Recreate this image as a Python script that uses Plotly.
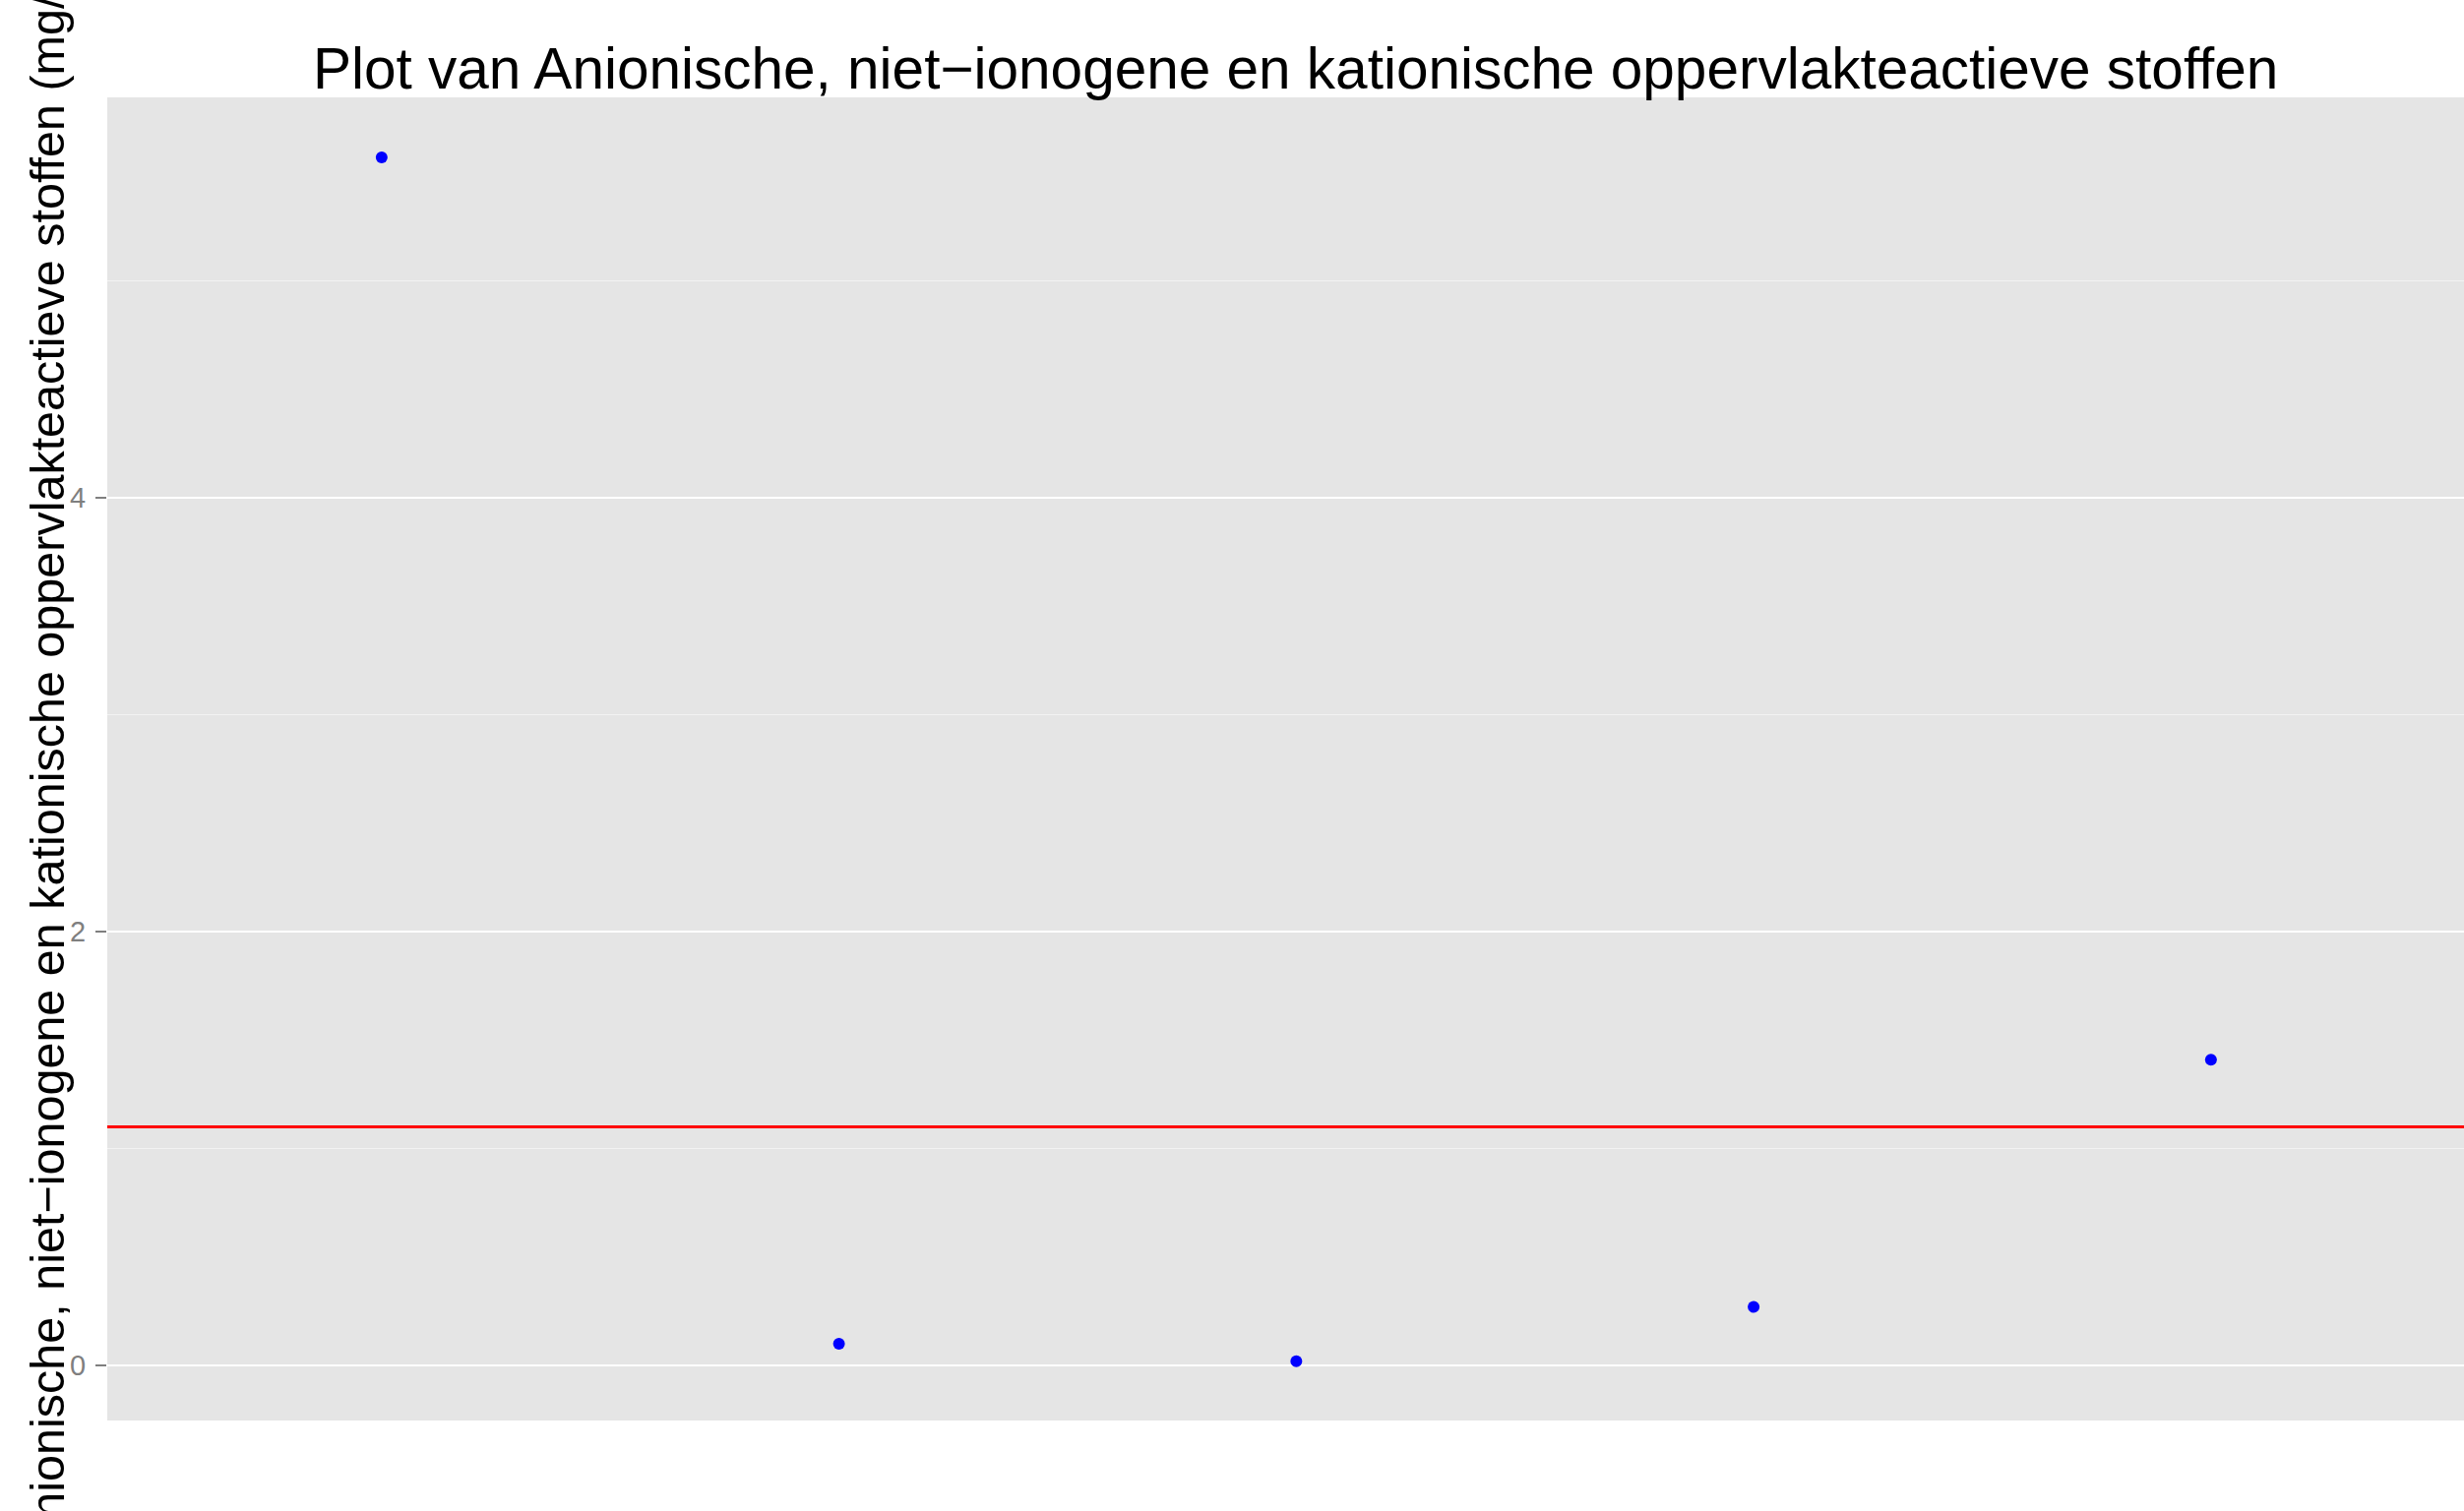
import plotly.graph_objects as go

# Data
samples = [1, 2, 3, 4, 5]
concentrations = [5.57, 0.10, 0.02, 0.27, 1.41]
threshold = 1.1
y_tick_values = [0, 2, 4]
y_tick_labels = ["0", "2", "4"]

title_text = "Plot van Anionische, niet\u2212ionogene en kationische oppervlakteactieve stoffen"
y_title = "Anionische, niet\u2212ionogene en kationische oppervlakteactieve stoffen (mg/l)"

FONT = "Liberation Sans, Arial, Helvetica, sans-serif"
W, H = 2504, 1536
ML, MR, MT, MB = 109, 0, 99, 92
PLOT_H = H - MT - MB

fig = go.Figure()
fig.add_trace(go.Scatter(
    x=samples, y=concentrations, mode="markers",
    marker=dict(color="#0000FF", size=12, line=dict(width=0)),
    showlegend=False, hoverinfo="x+y",
))
fig.add_hline(y=threshold, line=dict(color="#FF0000", width=3), layer="above")

fig.update_layout(
    width=W, height=H,
    margin=dict(l=ML, r=MR, t=MT, b=MB, pad=0),
    paper_bgcolor="white",
    plot_bgcolor="#E5E5E5",
    font=dict(family=FONT, color="black"),
    title=dict(
        text=title_text,
        font=dict(family=FONT, size=58.5, color="black"),
        x=1316.7 / W, xref="container", xanchor="center",
        y=1 - 69.7 / H, yref="container", yanchor="middle",
    ),
    xaxis=dict(
        range=[0.4, 5.5533],
        showgrid=False, zeroline=False, showticklabels=False,
        ticks="", showline=False,
    ),
    yaxis=dict(
        range=[-0.2536, 5.847],
        tickvals=y_tick_values, ticktext=y_tick_labels,
        tickfont=dict(family=FONT, size=29, color="#7F7F7F"),
        ticks="outside", ticklen=11, tickwidth=2, tickcolor="#7F7F7F",
        ticklabelstandoff=4,
        showgrid=True, gridcolor="white", gridwidth=2.2,
        zeroline=False, showline=False,
        minor=dict(dtick=1, tick0=0, showgrid=True, gridcolor="#F2F2F2", gridwidth=1, ticks=""),
    ),
)

label_center_px = 773  # from top of the figure
fig.add_annotation(
    text=y_title, textangle=-90,
    xref="paper", yref="paper",
    x=-(ML - 48) / (W - ML - MR),
    y=(H - MB - label_center_px) / PLOT_H,
    xanchor="center", yanchor="middle",
    showarrow=False,
    font=dict(family=FONT, size=48.5, color="black"),
)

fig.write_html(
    "out.html",
    config={"displayModeBar": False},
    post_script="document.body.style.margin='0';document.body.style.padding='0';document.body.style.overflow='hidden';",
)
